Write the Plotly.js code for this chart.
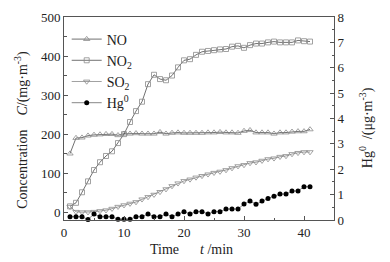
<!DOCTYPE html>
<html>
<head>
<meta charset="utf-8">
<script src="https://cdn.plot.ly/plotly-3.0.1.min.js"></script>
<style>html,body{margin:0;padding:0;background:#fff;}#chart{width:390px;height:262px;}</style>
</head>
<body>
<div id="chart"></div>
<script>
const time = [1,2,3,4,5,6,7,8,9,10,11,12,13,14,15,16,17,18,19,20,21,22,23,24,25,26,27,28,29,30,31,32,33,34,35,36,37,38,39,40,41];
const NO  = [150,190,191,196,198,199,200,200,197,201,201,202,201,201,201,205,201,203,204,203,203,203,203,204,204,205,204,204,203,208,210,204,204,204,201,204,204,206,207,207,212];
const NO2 = [15,24,51,79,108,128,144,156,177,200,231,259,283,328,352,341,338,350,371,389,392,403,411,413,415,417,418,424,426,421,428,432,432,435,437,435,435,435,440,438,437];
const SO2 = [14,1,0,0,1,3,5,9,14,18,22,26,33,39,45,52,59,67,74,80,84,89,93,97,101,104,108,113,118,121,126,128,132,136,138,142,144,149,152,154,154];
const Hg  = [0.13,0.13,0.13,0.02,0.24,0.13,0.13,0.13,0.03,0.03,0.03,0.13,0.13,0.24,0.13,0.13,0.24,0.13,0.24,0.33,0.24,0.33,0.33,0.24,0.33,0.33,0.43,0.43,0.43,0.63,0.75,0.62,0.75,0.85,0.94,1.02,1.02,1.14,1.14,1.31,1.31];

const serif = 'Liberation Serif, Times New Roman, serif';
const lineCol = '#333';
const mkCol = '#8a8a8a';

const traces = [
  {x: time, y: NO, name: 'NO', mode: 'lines+markers', cliponaxis: false,
   line: {color: lineCol, width: 0.7},
   marker: {symbol: 'triangle-up-open', size: 5.5, color: mkCol, line: {width: 0.8, color: mkCol}}},
  {x: time, y: NO2, name: 'NO<sub>2</sub>', mode: 'lines+markers', cliponaxis: false,
   line: {color: lineCol, width: 0.7},
   marker: {symbol: 'square-open', size: 5, color: mkCol, line: {width: 0.8, color: mkCol}}},
  {x: time, y: SO2, name: 'SO<sub>2</sub>', mode: 'lines+markers', cliponaxis: false,
   line: {color: '#777', width: 0.7},
   marker: {symbol: 'triangle-down-open', size: 5.5, color: mkCol, line: {width: 0.8, color: mkCol}}},
  {x: time, y: Hg, name: 'Hg<sup>0</sup>', mode: 'lines+markers', yaxis: 'y2', cliponaxis: false,
   line: {color: '#111', width: 0.5},
   marker: {symbol: 'circle', size: 5, color: '#000'}}
];

const axCommon = {
  showline: true, linecolor: '#555', linewidth: 1,
  ticks: 'inside', ticklen: 4, tickcolor: '#555', tickwidth: 1,
  showgrid: false, zeroline: false,
  tickfont: {family: 'Liberation Serif', size: 13, color: '#222'}
};

const layout = {
  width: 390, height: 262,
  margin: {l: 64, r: 56, t: 17, b: 42},
  paper_bgcolor: '#fff', plot_bgcolor: '#fff',
  font: {family: serif, size: 13, color: '#222'},
  showlegend: true,
  legend: {x: 0.01, y: 0.968, xanchor: 'left', yanchor: 'top', bgcolor: 'rgba(0,0,0,0)',
           font: {family: serif, size: 14, color: '#222'}, tracegroupgap: 0, itemwidth: 30},
  xaxis: Object.assign({}, axCommon, {range: [0, 45], dtick: 10, tick0: 0, mirror: true,
          minor: {ticks: 'inside', ticklen: 2.5, dtick: 5, tickcolor: '#555'}}),
  yaxis: Object.assign({}, axCommon, {range: [-20, 500], dtick: 100, tick0: 0, mirror: true,
          minor: {ticks: 'inside', ticklen: 2.5, dtick: 50, tickcolor: '#555'}}),
  yaxis2: Object.assign({}, axCommon, {range: [0, 8], dtick: 1, tick0: 0, overlaying: 'y', side: 'right',
          minor: {ticks: 'inside', ticklen: 2.5, dtick: 0.5, tickcolor: '#555'}}),
  annotations: [
    {text: 'Concentration\u00a0\u00a0\u00a0\u00a0<i>C</i>/(mg·m<sup>-3</sup>)', xref: 'paper', yref: 'paper',
     x: -0.16, y: 0.443, textangle: -90, showarrow: false, xanchor: 'center', yanchor: 'middle',
     font: {family: serif, size: 14, color: '#222'}},
    {text: 'Hg<sup>0</sup>\u00a0\u00a0/(μg·m<sup>-3</sup>)', xref: 'paper', yref: 'paper',
     x: 1.119, y: 0.453, textangle: -90, showarrow: false, xanchor: 'center', yanchor: 'middle',
     font: {family: serif, size: 14, color: '#222'}},
    {text: 'Time\u00a0\u00a0\u00a0\u00a0\u00a0\u00a0<i>t</i> /min', xref: 'paper', yref: 'paper',
     x: 0.474, y: -0.143, showarrow: false, xanchor: 'center', yanchor: 'middle',
     font: {family: serif, size: 14, color: '#222'}}
  ]
};

Plotly.newPlot('chart', traces, layout, {displayModeBar: false, staticPlot: true});
</script>
</body>
</html>
